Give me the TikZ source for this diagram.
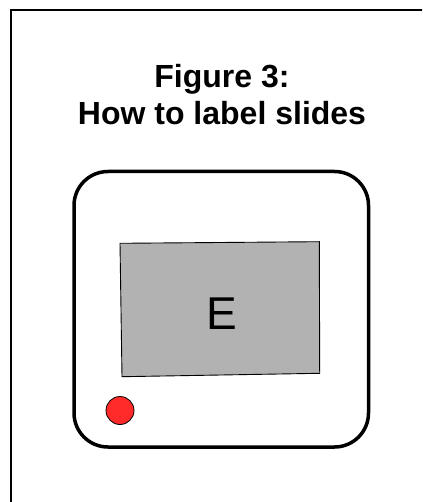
\documentclass[tikz,border=0pt]{standalone}
\usepackage{fontspec}
\setmainfont{Liberation Sans}
\definecolor{slidegray}{RGB}{178,178,178}
\definecolor{dotred}{RGB}{255,42,42}
\begin{document}
\begin{tikzpicture}[x=1pt,y=-1pt,
  frameline/.style={draw=black,line width=2pt},
  slideline/.style={draw=black,line width=3.5pt,rounded corners=34pt},
  windowbox/.style={draw=black,line width=0.9pt,fill=slidegray},
  titletext/.style={font=\bfseries\fontsize{32}{38}\selectfont,inner sep=0pt,anchor=base},
  lettertext/.style={font=\fontsize{46}{52}\selectfont,inner sep=0pt,anchor=base},
  dotstyle/.style={circle,draw=black,line width=0.8pt,fill=dotred,minimum size=28pt,inner sep=0pt}]
\clip (0,0) rectangle (422,502);
\fill[white] (0,0) rectangle (422,502);
% outer frame (only top and left edges in view)
\draw[frameline] (11,10) rectangle (440,520);
% slide mount
\draw[slideline] (74,171.5) rectangle (368.5,447);
% window
\draw[windowbox] (120,243.3) -- (319.3,241.7) -- (319.7,373.3) -- (122,376.7) -- cycle;
\node[lettertext] (letter) at (221.5,329) {E};
% red dot
\node[dotstyle] (dot) at (120,410.5) {};
% title
\node[titletext] (title1) at (222,87.5) {Figure 3:};
\node[titletext] (title2) at (222,125) {How to label slides};
\end{tikzpicture}
\end{document}
